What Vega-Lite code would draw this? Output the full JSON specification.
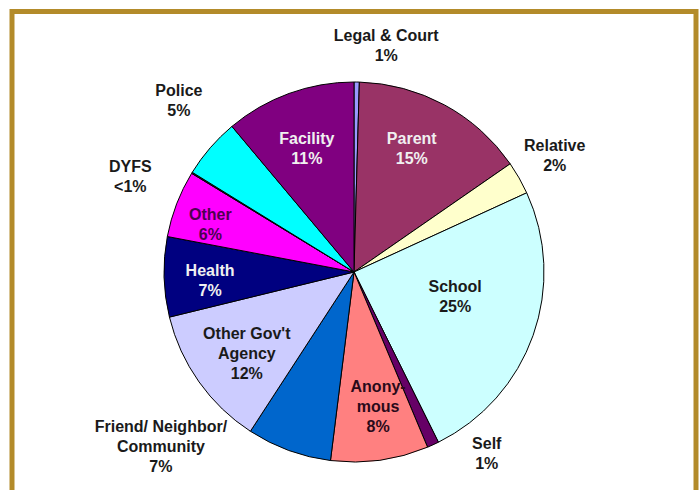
{
  "$schema": "https://vega.github.io/schema/vega-lite/v6.json",
  "width": 684,
  "height": 521,
  "autosize": "none",
  "padding": {"left": 12, "top": 11.5, "right": 3, "bottom": 0},
  "background": "white",
  "view": {"stroke": "#b38b2a", "strokeWidth": 5, "fill": "white"},
  "config": {"text": {"font": "Liberation Sans", "fontWeight": "bold", "fontSize": 16, "lineHeight": 20, "lineBreak": "\n", "color": "#1a1a1a"}},
  "data": {"values": [
    {"i": 1, "source": "Legal & Court", "value": 0.45, "label": "Legal & Court\n1%"},
    {"i": 2, "source": "Parent", "value": 14.9, "label": "Parent\n15%"},
    {"i": 3, "source": "Relative", "value": 2.8, "label": "Relative\n2%"},
    {"i": 4, "source": "School", "value": 24.5, "label": "School\n25%"},
    {"i": 5, "source": "Self", "value": 1.0, "label": "Self\n1%"},
    {"i": 6, "source": "Anonymous", "value": 8.3, "label": "Anony-\nmous\n8%"},
    {"i": 7, "source": "Friend/ Neighbor/ Community", "value": 7.2, "label": "Friend/ Neighbor/\nCommunity\n7%"},
    {"i": 8, "source": "Other Gov't Agency", "value": 12.0, "label": "Other Gov't\nAgency\n12%"},
    {"i": 9, "source": "Health", "value": 6.8, "label": "Health\n7%"},
    {"i": 10, "source": "Other", "value": 5.7, "label": "Other\n6%"},
    {"i": 11, "source": "DYFS", "value": 0.1, "label": "DYFS\n<1%"},
    {"i": 12, "source": "Police", "value": 5.1, "label": "Police\n5%"},
    {"i": 13, "source": "Facility", "value": 11.1, "label": "Facility\n11%"}
  ]},
  "encoding": {
    "theta": {"field": "value", "type": "quantitative", "stack": true},
    "order": {"field": "i", "type": "quantitative"}
  },
  "layer": [
    {
      "mark": {"type": "arc", "outerRadius": 190, "stroke": "#000000", "strokeWidth": 1},
      "encoding": {
        "color": {
          "field": "source", "type": "nominal", "legend": null,
          "scale": {
            "domain": ["Legal & Court", "Parent", "Relative", "School", "Self", "Anonymous", "Friend/ Neighbor/ Community", "Other Gov't Agency", "Health", "Other", "DYFS", "Police", "Facility"],
            "range": ["#9999ff", "#993366", "#ffffcc", "#ccffff", "#660066", "#ff8080", "#0066cc", "#ccccff", "#000080", "#ff00ff", "#333333", "#00ffff", "#800080"]
          }
        }
      }
    },
    {
      "mark": {"type": "text", "radius": 138, "dx": -8, "dy": -12, "color": "#f0f0f0"},
      "encoding": {"text": {"condition": {"test": "datum.source === 'Parent'", "field": "label"}, "value": ""}}
    },
    {
      "mark": {"type": "text", "radius": 138, "dx": 0, "dy": -3, "color": "#f0f0f0"},
      "encoding": {"text": {"condition": {"test": "datum.source === 'Facility'", "field": "label"}, "value": ""}}
    },
    {
      "mark": {"type": "text", "radius": 138, "dx": -6, "dy": -5, "color": "#f0f0f0"},
      "encoding": {"text": {"condition": {"test": "datum.source === 'Health'", "field": "label"}, "value": ""}}
    },
    {
      "mark": {"type": "text", "radius": 140, "dx": 5, "dy": -24, "color": "#2a0a1a"},
      "encoding": {"text": {"condition": {"test": "datum.source === 'Anonymous'", "field": "label"}, "value": ""}}
    },
    {
      "mark": {"type": "text", "radius": 140, "dx": 7, "dy": -19},
      "encoding": {"text": {"condition": {"test": "datum.source === \"Other Gov't Agency\"", "field": "label"}, "value": ""}}
    },
    {
      "mark": {"type": "text", "radius": 140, "dx": -13, "dy": -7, "color": "#4d0050"},
      "encoding": {"text": {"condition": {"test": "datum.source === 'Other'", "field": "label"}, "value": ""}}
    },
    {
      "mark": {"type": "text", "radius": 102, "dx": 5, "dy": -19},
      "encoding": {"text": {"condition": {"test": "datum.source === 'School'", "field": "label"}, "value": ""}}
    },
    {
      "mark": {"type": "text", "radius": 231, "dx": 0, "dy": -12},
      "encoding": {"text": {"condition": {"test": "datum.source === 'Relative'", "field": "label"}, "value": ""}}
    },
    {
      "mark": {"type": "text", "radius": 227, "dx": 29, "dy": -9},
      "encoding": {"text": {"condition": {"test": "datum.source === 'Legal & Court'", "field": "label"}, "value": ""}}
    },
    {
      "mark": {"type": "text", "radius": 223, "dx": 40, "dy": -31},
      "encoding": {"text": {"condition": {"test": "datum.source === 'Self'", "field": "label"}, "value": ""}}
    },
    {
      "mark": {"type": "text", "radius": 210, "dx": -121, "dy": -42},
      "encoding": {"text": {"condition": {"test": "datum.source === 'Friend/ Neighbor/ Community'", "field": "label"}, "value": ""}}
    },
    {
      "mark": {"type": "text", "radius": 247, "dx": -13, "dy": 24},
      "encoding": {"text": {"condition": {"test": "datum.source === 'DYFS'", "field": "label"}, "value": ""}}
    },
    {
      "mark": {"type": "text", "radius": 250, "dx": 14, "dy": -18},
      "encoding": {"text": {"condition": {"test": "datum.source === 'Police'", "field": "label"}, "value": ""}}
    }
  ]
}
